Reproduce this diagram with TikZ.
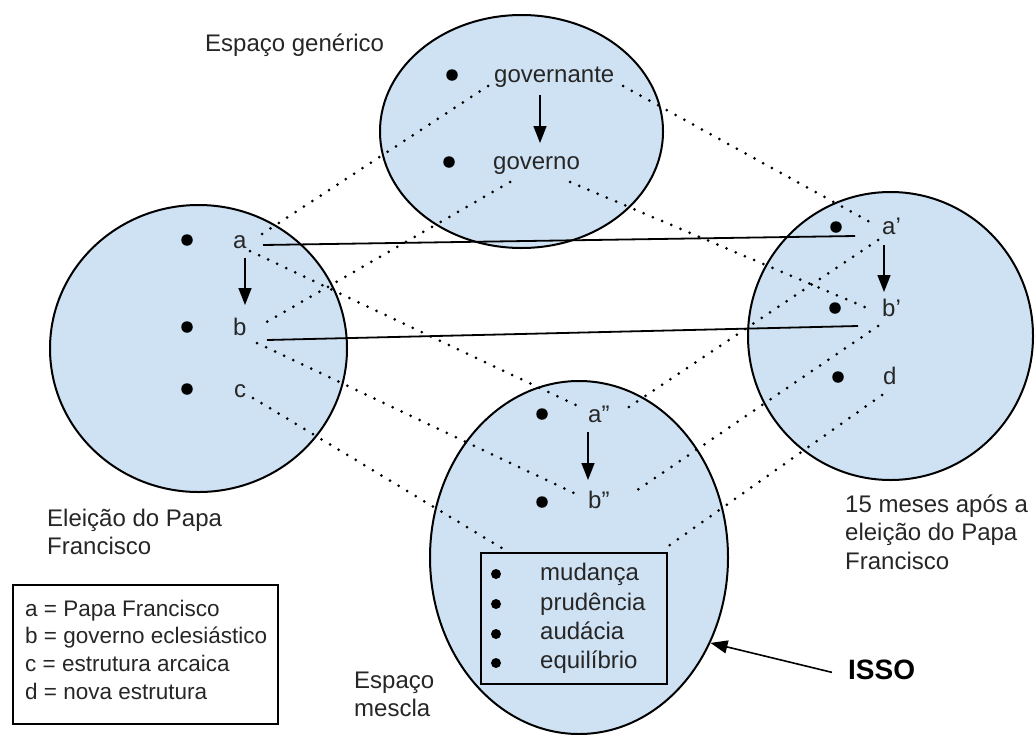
\documentclass[tikz,border=0pt]{standalone}
\usepackage{fontspec}
\setmainfont{Liberation Sans}
\usetikzlibrary{arrows.meta,shapes.geometric}
\definecolor{spacefill}{HTML}{CFE2F3}
\definecolor{ink}{HTML}{262626}

\begin{document}
\begin{tikzpicture}[x=1pt,y=-1pt,
  space/.style={ellipse, draw=black, line width=2pt, fill=spacefill, inner sep=0pt},
  frame/.style={draw=black, line width=2pt, inner sep=0pt, anchor=north west},
  lbl/.style={inner sep=0pt, anchor=base west, text=ink, font=\fontsize{24}{28.5}\selectfont},
  legtxt/.style={inner sep=0pt, anchor=base west, text=ink, font=\fontsize{22.5}{27.7}\selectfont},
  pt/.style={circle, fill=black, inner sep=0pt, minimum size=11.5pt},
  bul/.style={circle, fill=black, inner sep=0pt, minimum size=10pt},
  mapline/.style={line width=3pt, dash pattern=on 0pt off 10pt, line cap=round},
  link/.style={line width=1.8pt},
  rel/.style={line width=1.6pt, -{Triangle[length=17pt,width=13pt]}},
]
\useasboundingbox (0,0) rectangle (1035,734);

% the four mental spaces
\node[space, minimum width=283pt, minimum height=233pt] (gen)   at (521.5,131.5) {};
\node[space, minimum width=297pt, minimum height=287pt] (inA)   at (198.5,348.5) {};
\node[space, minimum width=285pt, minimum height=288pt] (inB)   at (890.5,336) {};
\node[space, minimum width=298pt, minimum height=353pt] (blend) at (579,557.5) {};

% box of emergent qualities inside the blend
\node[frame, minimum width=186pt, minimum height=131pt] (qual) at (480,552) {};

% legend
\node[frame, minimum width=265pt, minimum height=139pt] (legend) at (12,584) {};
\node[legtxt] (legtext) at (25,616) {\begin{tabular}[t]{@{}l@{}}
a = Papa Francisco\\
b = governo eclesiástico\\
c = estrutura arcaica\\
d = nova estrutura
\end{tabular}};

% titles of the spaces
\node[lbl] (t-gen) at (205,51) {Espaço genérico};
\node[lbl] (t-inA) at (47,526) {\begin{tabular}[t]{@{}l@{}}Eleição do Papa\\Francisco\end{tabular}};
\node[lbl] (t-inB) at (845,512) {\begin{tabular}[t]{@{}l@{}}15 meses após a\\eleição do Papa\\Francisco\end{tabular}};
\node[lbl] (t-blend) at (354,688) {\begin{tabular}[t]{@{}l@{}}Espaço\\mescla\end{tabular}};
\node[inner sep=0pt, anchor=base west, font=\fontsize{28}{32}\selectfont\bfseries] (isso) at (848,679) {ISSO};

% elements: generic space
\node[pt] (g1) at (452,75) {};
\node[pt] (g2) at (449,162) {};
\node[lbl] (gte) at (494,82) {governante};
\node[lbl] (gov) at (493,169) {governo};

% elements: input space 1
\node[pt] (p-a) at (187,240) {};
\node[pt] (p-b) at (187,327) {};
\node[pt] (p-c) at (187,389) {};
\node[lbl] (la) at (233,248) {a};
\node[lbl] (lb) at (233,335) {b};
\node[lbl] (lc) at (234,397) {c};

% elements: input space 2
\node[pt] (p-a1) at (836,227) {};
\node[pt] (p-b1) at (835,308) {};
\node[pt] (p-d)  at (838,377) {};
\node[lbl] (la1) at (882,234) {a’};
\node[lbl] (lb1) at (882,316) {b’};
\node[lbl] (ld)  at (883,384) {d};

% elements: blend
\node[pt] (p-a2) at (542,414) {};
\node[pt] (p-b2) at (542,502) {};
\node[lbl] (la2) at (588,422) {a”};
\node[lbl] (lb2) at (588,508) {b”};

\node[bul] (q1) at (496,574) {};
\node[bul] (q2) at (496,604) {};
\node[bul] (q3) at (496,634) {};
\node[bul] (q4) at (496,663) {};
\node[lbl] (m1) at (540,580) {mudança};
\node[lbl] (m2) at (540,610) {prudência};
\node[lbl] (m3) at (540,639) {audácia};
\node[lbl] (m4) at (540,668) {equilíbrio};

% ports where the connectors meet the labels
\coordinate (gte-l) at (488,86);  \coordinate (gte-r) at (623,86);
\coordinate (gov-l) at (510,182); \coordinate (gov-r) at (570,182);
\coordinate (a-up) at (262,234);  \coordinate (a-dn) at (250,251); \coordinate (a-ln) at (263,245);
\coordinate (b-up) at (265,323);  \coordinate (b-dn) at (257,343); \coordinate (b-ln) at (267,340);
\coordinate (c-dn) at (253,398);
\coordinate (a1-up) at (870,222); \coordinate (a1-ln) at (855,236); \coordinate (a1-dn) at (878,240);
\coordinate (b1-up) at (867,308); \coordinate (b1-ln) at (858,326); \coordinate (b1-dn) at (878,326);
\coordinate (d-dn) at (882,395);
\coordinate (a2-l) at (580,407);  \coordinate (a2-r) at (623,411);
\coordinate (b2-l) at (578,495);  \coordinate (b2-r) at (633,493);
\coordinate (q-l) at (505,550);   \coordinate (q-r) at (667,547);

% cross-space mappings (dotted)
\draw[mapline] (gte-l) -- (a-up);
\draw[mapline] (gte-r) -- (a1-up);
\draw[mapline] (gov-l) -- (b-up);
\draw[mapline] (gov-r) -- (b1-up);
\draw[mapline] (a-dn) -- (a2-l);
\draw[mapline] (b-dn) -- (b2-l);
\draw[mapline] (c-dn) -- (q-l);
\draw[mapline] (a1-dn) -- (a2-r);
\draw[mapline] (b1-dn) -- (b2-r);
\draw[mapline] (d-dn) -- (q-r);

% counterpart links between the inputs
\draw[link] (a-ln) -- (a1-ln);
\draw[link] (b-ln) -- (b1-ln);

% vital relations inside each space
\coordinate (r-g1) at (540,95);  \coordinate (r-g2) at (540,143);
\coordinate (r-a1) at (245,258); \coordinate (r-a2) at (245,305);
\coordinate (r-b1) at (884,245); \coordinate (r-b2) at (884,292);
\coordinate (r-c1) at (588,432); \coordinate (r-c2) at (588,480);
\draw[rel] (r-g1) -- (r-g2);
\draw[rel] (r-a1) -- (r-a2);
\draw[rel] (r-b1) -- (r-b2);
\draw[rel] (r-c1) -- (r-c2);

% pointer to the blend
\draw[rel] ([xshift=-16pt,yshift=-3pt]isso.west) -- (blend.-33);
\end{tikzpicture}
\end{document}
